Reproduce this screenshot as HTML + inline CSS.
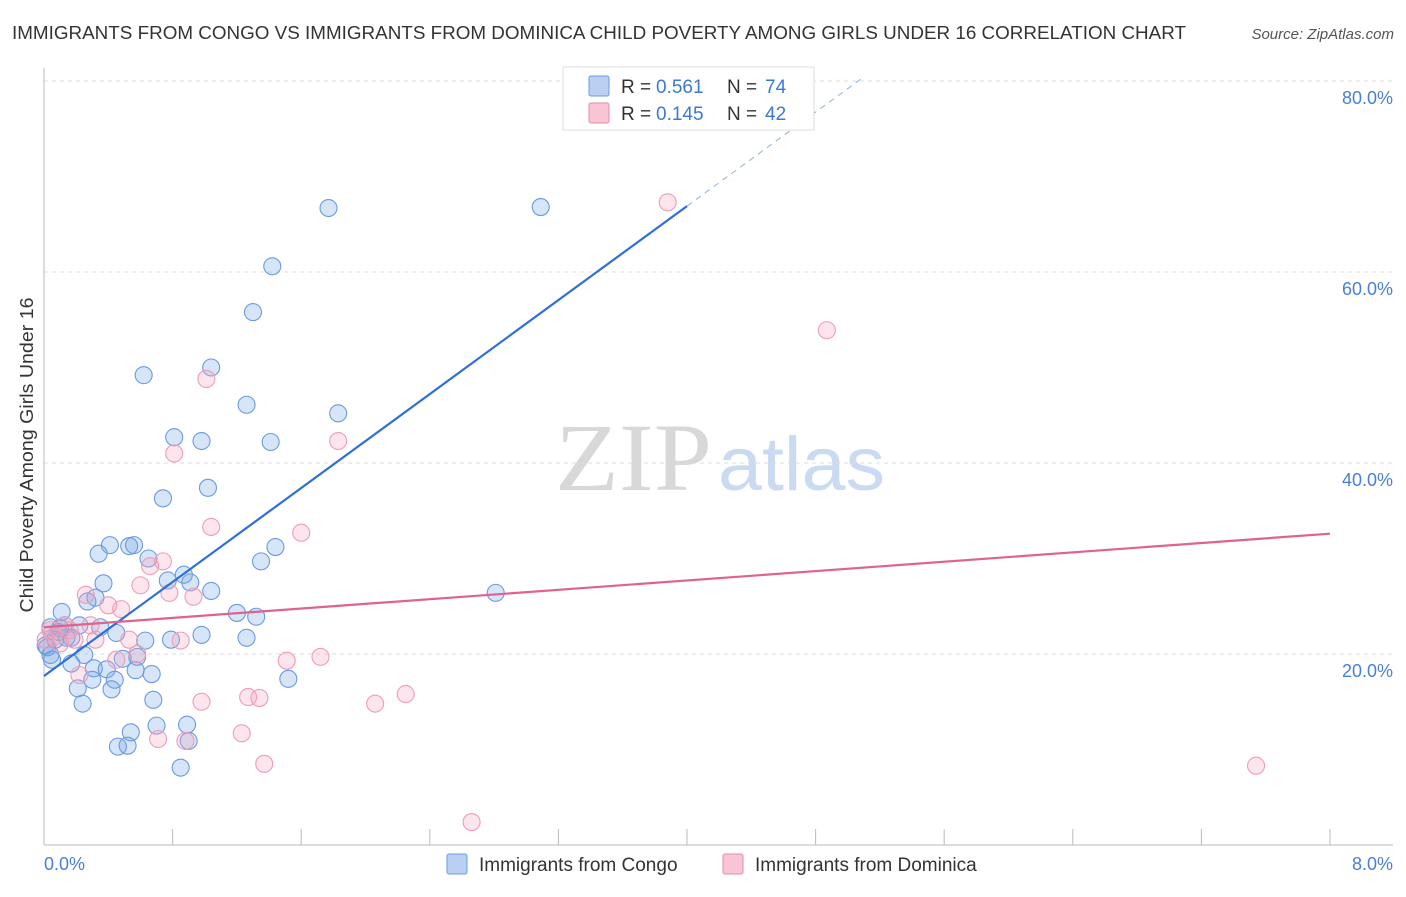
<!DOCTYPE html>
<html><head><meta charset="utf-8"><style>
body{margin:0;background:#fff;font-family:"Liberation Sans",sans-serif;}
</style></head><body>
<svg width="1406" height="892" xmlns="http://www.w3.org/2000/svg" font-family="Liberation Sans, sans-serif">
<text x="12" y="39" font-size="18" fill="#333" textLength="1174" lengthAdjust="spacingAndGlyphs">IMMIGRANTS FROM CONGO VS IMMIGRANTS FROM DOMINICA CHILD POVERTY AMONG GIRLS UNDER 16 CORRELATION CHART</text>
<text x="1394" y="39" font-size="15" fill="#555" text-anchor="end" font-style="italic">Source: ZipAtlas.com</text>
<text x="555" y="490" font-size="96" fill="#d8d8d8" textLength="157" lengthAdjust="spacingAndGlyphs" font-family="Liberation Serif, serif">ZIP</text>
<text x="718" y="490" font-size="76" fill="#c9daf2" textLength="167" lengthAdjust="spacingAndGlyphs">atlas</text>
<g id="grid"></g><g id="axes"></g><g id="pts"></g><g id="lines"></g>
<text transform="translate(33,455) rotate(-90)" font-size="18" fill="#333" text-anchor="middle" textLength="315" lengthAdjust="spacingAndGlyphs">Child Poverty Among Girls Under 16</text>
<text x="44" y="870" font-size="18" fill="#4a7fd6">0.0%</text>
<text x="1393" y="870" font-size="18" fill="#4a7fd6" text-anchor="end">8.0%</text>
<g>
<rect x="563" y="67" width="251" height="63" fill="#fff" stroke="#ddd"/>
<rect x="589" y="76" width="20" height="20" fill="#b9d0f3" stroke="#6a9be0" rx="2"/>
<rect x="589" y="103" width="20" height="20" fill="#f8c5d4" stroke="#e88aa8" rx="2"/>
<text x="621" y="93" font-size="19" fill="#333">R = </text><text x="656" y="93" font-size="19" fill="#3b78d8">0.561</text>
<text x="727" y="93" font-size="19" fill="#333">N = </text><text x="765" y="93" font-size="19" fill="#3b78d8">74</text>
<text x="621" y="120" font-size="19" fill="#333">R = </text><text x="656" y="120" font-size="19" fill="#3b78d8">0.145</text>
<text x="727" y="120" font-size="19" fill="#333">N = </text><text x="765" y="120" font-size="19" fill="#3b78d8">42</text>
</g>
<g>
<rect x="447" y="854" width="20" height="20" fill="#b9d0f3" stroke="#6a9be0" rx="2"/>
<text x="479" y="871" font-size="19" fill="#333">Immigrants from Congo</text>
<rect x="723" y="854" width="20" height="20" fill="#f8c5d4" stroke="#e88aa8" rx="2"/>
<text x="755" y="871" font-size="19" fill="#333">Immigrants from Dominica</text>
</g>
</svg>
<script>
const yTicks=[20,40,60,80];
const yTickLabels=["20.0%","40.0%","60.0%","80.0%"];
const xTicks=[0,0.8,1.6,2.4,3.2,4.0,4.8,5.6,6.4,7.2,8.0];
const congoX=[1.77,3.09,1.42,1.30,0.62,1.04,1.26,1.83,0.81,0.98,1.41,1.02,0.74,0.34,0.41,0.53,0.56,1.44,1.35,0.65,0.77,0.87,0.91,0.37,1.04,2.81,0.27,0.32,0.11,1.20,1.32,0.04,0.13,0.22,0.35,0.09,0.17,0.45,0.63,0.79,0.98,1.26,0.02,0.07,0.25,0.17,0.31,0.39,0.49,0.58,0.57,0.67,0.44,0.30,0.21,0.42,1.52,0.68,0.24,0.70,0.54,0.89,0.46,0.52,0.90,0.85,0.04,0.01,0.10,0.14,0.05];
const congoY=[66.7,66.8,60.6,55.8,49.2,50.0,46.1,45.2,42.7,42.3,42.2,37.4,36.3,30.5,31.4,31.3,31.4,31.2,29.7,30.0,27.7,28.3,27.5,27.4,26.6,26.4,25.5,25.9,24.4,24.3,23.9,22.8,23.0,23.0,22.8,22.3,21.7,22.2,21.4,21.5,22.0,21.7,20.7,21.5,19.9,19.0,18.5,18.4,19.5,19.7,18.3,17.9,17.3,17.3,16.4,16.3,17.4,15.2,14.8,12.5,11.8,12.6,10.3,10.4,10.9,8.1,19.9,20.9,22.7,21.7,19.4];
const domX=[3.88,4.87,1.01,1.83,0.81,1.04,1.60,0.74,0.66,0.60,0.26,0.78,0.93,0.40,0.48,0.16,0.29,0.32,0.53,0.85,0.06,0.10,0.19,0.45,0.58,1.51,1.72,0.22,0.98,1.27,1.34,2.06,2.25,0.71,0.88,1.23,1.37,7.54,2.66,0.01,0.13,0.04];
const domY=[67.3,53.9,48.8,42.3,41.0,33.3,32.7,29.7,29.2,27.2,26.2,26.4,26.0,25.1,24.7,22.5,23.0,21.5,21.5,21.4,21.8,21.1,21.5,19.4,20.0,19.3,19.7,17.8,15.0,15.5,15.4,14.8,15.8,11.1,10.9,11.7,8.5,8.3,2.4,21.5,23.0,22.5];
const congoFit=[17.7,12.3];
const domFit=[22.8,1.225];
const NS="http://www.w3.org/2000/svg";
const X=v=>44+v/8*1286, Y=v=>845-v/20*191;
function mk(tag,attrs,parent){const e=document.createElementNS(NS,tag);for(const k in attrs)e.setAttribute(k,attrs[k]);document.getElementById(parent).appendChild(e);return e;}
yTicks.forEach((t,i)=>{
 const g=mk('line',{x1:44,x2:1393,y1:Y(t),y2:Y(t),stroke:'#ddd','stroke-dasharray':'4,4'},'grid');
 
 
 const l=mk('text',{x:1393,y:Y(t)+23,'font-size':18,fill:'#4a7fd6','text-anchor':'end'},'grid');
 l.textContent=yTickLabels[i];
 
 
});
const ax=mk('line',{x1:44,x2:44,y1:68,y2:845,stroke:'#bbb'},'axes');


const bx=mk('line',{x1:44,x2:1393,y1:845,y2:845,stroke:'#bbb'},'axes');


xTicks.forEach(t=>{
 const k=mk('line',{x1:X(t),x2:X(t),y1:829,y2:845,stroke:'#bbb'},'axes');
 
 
});
congoX.forEach((x,i)=>{
 const c=mk('circle',{cx:X(x),cy:Y(congoY[i]),r:8.5,fill:'rgba(110,160,230,0.28)',stroke:'#6a9be0','stroke-width':1.1},'pts');
 
 
});
domX.forEach((x,i)=>{
 const c=mk('circle',{cx:X(x),cy:Y(domY[i]),r:8.5,fill:'rgba(245,160,185,0.28)',stroke:'#ee9db6','stroke-width':1.1},'pts');
 
 
});
const f=(p,x)=>p[0]+p[1]*x;
const b1=mk('line',{x1:X(0),y1:Y(f(congoFit,0)),x2:X(4),y2:Y(f(congoFit,4)),stroke:'#2e6fd8','stroke-width':2.2},'lines');


const b2=mk('line',{x1:X(4),y1:Y(f(congoFit,4)),x2:X(5.08),y2:Y(f(congoFit,5.08)),stroke:'#8fb0e0','stroke-width':1,'stroke-dasharray':'6,5'},'lines');


const p1=mk('line',{x1:X(0),y1:Y(f(domFit,0)),x2:X(8),y2:Y(f(domFit,8)),stroke:'#e0628e','stroke-width':2.2},'lines');


</script>
</body></html>
